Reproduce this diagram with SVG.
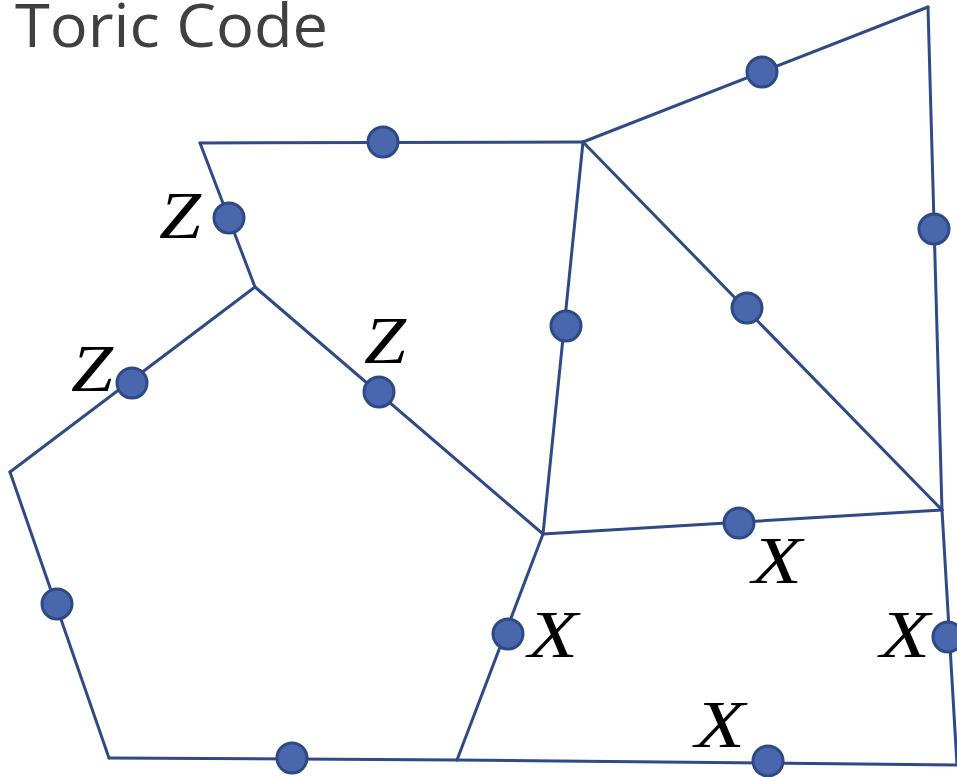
<svg xmlns="http://www.w3.org/2000/svg" width="957" height="777" viewBox="0 0 957 777">
<style>
.e{stroke:#2F4A85;stroke-width:3;fill:none;stroke-linecap:round;stroke-linejoin:round}
.q{fill:#4A66AC;stroke:#2E4A84;stroke-width:3}
.lbl{font-family:"Liberation Serif","Times New Roman",serif;font-style:italic;font-size:68px;fill:#000}
.title{font-family:"Open Sans","Liberation Sans",sans-serif;font-size:60px;fill:#404040}
</style>
<rect width="957" height="777" fill="#fff"/>
<text class="title" x="15" y="47" textLength="313" lengthAdjust="spacingAndGlyphs">Toric Code</text>
<g id="connectors">
<line class="e" x1="200" y1="143" x2="583" y2="142"/>
<line class="e" x1="583" y1="142" x2="928" y2="7"/>
<line class="e" x1="928" y1="7" x2="942" y2="510"/>
<line class="e" x1="200" y1="143" x2="255" y2="287"/>
<line class="e" x1="255" y1="287" x2="10" y2="472"/>
<line class="e" x1="255" y1="287" x2="543" y2="534"/>
<line class="e" x1="583" y1="142" x2="543" y2="534"/>
<line class="e" x1="583" y1="142" x2="942" y2="510"/>
<line class="e" x1="543" y1="534" x2="942" y2="510"/>
<line class="e" x1="10" y1="472" x2="109" y2="758"/>
<line class="e" x1="109" y1="758" x2="457" y2="760"/>
<line class="e" x1="543" y1="534" x2="457" y2="760"/>
<line class="e" x1="457" y1="760" x2="957" y2="765"/>
<line class="e" x1="942" y1="510" x2="957" y2="765"/>
</g>
<g id="q1"><circle class="q" cx="383" cy="142" r="15"/></g>
<g id="q2"><circle class="q" cx="762" cy="72" r="15"/></g>
<g id="q3"><circle class="q" cx="934" cy="229" r="15"/></g>
<g id="q4"><circle class="q" cx="229" cy="218" r="15"/><text class="lbl" x="159" y="238" textLength="42" lengthAdjust="spacingAndGlyphs">Z</text></g>
<g id="q5"><circle class="q" cx="132" cy="383" r="15"/><text class="lbl" x="71" y="391" textLength="42" lengthAdjust="spacingAndGlyphs">Z</text></g>
<g id="q6"><circle class="q" cx="379" cy="392" r="15"/><text class="lbl" x="364" y="363" textLength="42" lengthAdjust="spacingAndGlyphs">Z</text></g>
<g id="q7"><circle class="q" cx="566" cy="326" r="15"/></g>
<g id="q8"><circle class="q" cx="747" cy="308" r="15"/></g>
<g id="q9"><circle class="q" cx="739" cy="523" r="15"/><text class="lbl" x="752" y="583" textLength="50" lengthAdjust="spacingAndGlyphs">X</text></g>
<g id="q10"><circle class="q" cx="57" cy="604" r="15"/></g>
<g id="q11"><circle class="q" cx="292" cy="758" r="15"/></g>
<g id="q12"><circle class="q" cx="508" cy="634" r="15"/><text class="lbl" x="528" y="657" textLength="50" lengthAdjust="spacingAndGlyphs">X</text></g>
<g id="q13"><circle class="q" cx="768" cy="761" r="15"/><text class="lbl" x="695" y="747" textLength="50" lengthAdjust="spacingAndGlyphs">X</text></g>
<g id="q14"><circle class="q" cx="948" cy="637" r="15"/><text class="lbl" x="880" y="657" textLength="50" lengthAdjust="spacingAndGlyphs">X</text></g>
</svg>
